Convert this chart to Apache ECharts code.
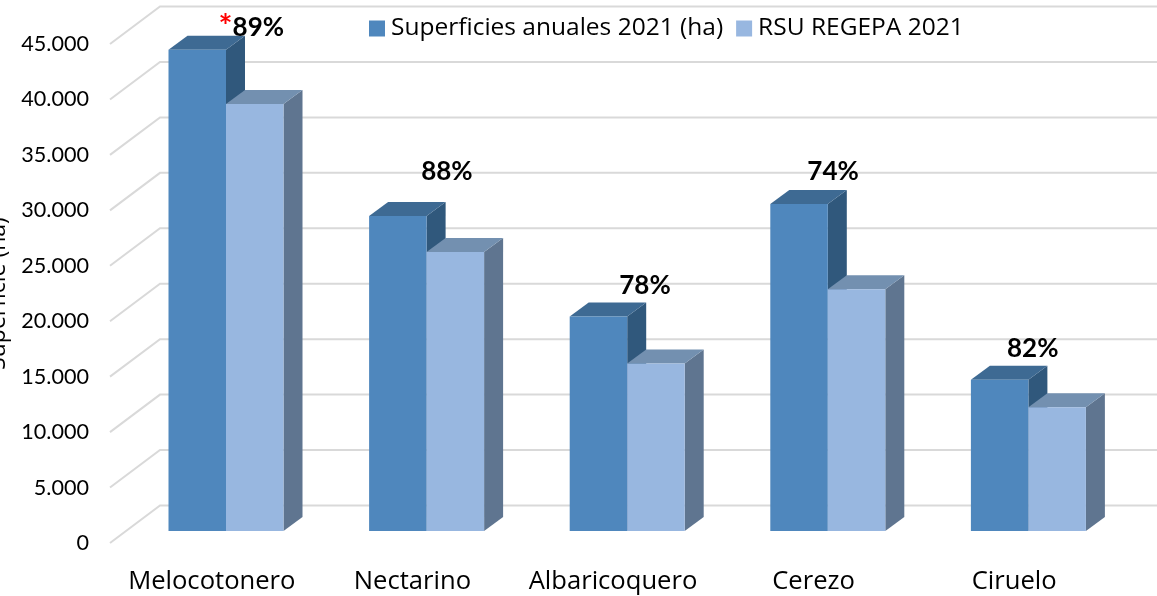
<!DOCTYPE html>
<html><head><meta charset="utf-8">
<style>html,body{margin:0;padding:0;background:#fff;overflow:hidden}#c{width:1157px;height:596px}</style>
<script src="https://cdn.jsdelivr.net/npm/echarts@6/dist/echarts.min.js"></script>
</head><body><div id="c"></div>
<script>
const categories = ['Melocotonero','Nectarino','Albaricoquero','Cerezo','Ciruelo'];
const superficies = [43400, 28400, 19350, 29500, 13650];
const rsu = [38500, 25150, 15100, 21800, 11150];
const percents = ['89%','88%','78%','74%','82%'];
const ticks = [0,5000,10000,15000,20000,25000,30000,35000,40000,45000];
const seriesNames = ['Superficies anuales 2021 (ha)','RSU REGEPA 2021'];
const yTitle = 'Superficie (ha)';

const FONT = '"Open Sans", Lato, sans-serif';
const NUMFONT = 'Lato, "Open Sans", sans-serif';
const labelNudge = [[41,-34],[36,-56.5],[33.5,-43],[21,-44.5],[20,-43]];
const BAR_SHIFT = [15.7, -12], DEPTH = [19, -14], WALL = [50, -37.5], BAR_RATIO = 57.5/200.6;
const palette = [
  {front:'#4f87bd', top:'#3e6a93', side:'#30587c'},
  {front:'#98b7e0', top:'#7390b0', side:'#5f7590'}
];
const poly = (pts, fill) => ({type:'polygon', shape:{points:pts}, style:{fill}});

function barRender(idx){
  return function(params, api){
    const i = api.value(0), v = api.value(1);
    const band = api.size([1,0])[0];
    const w = band*BAR_RATIO;
    const top = api.coord([i,v]), base = api.coord([i,0]);
    const xl = top[0]+BAR_SHIFT[0]+(idx-1)*w, xr = xl+w;
    const yt = top[1]+BAR_SHIFT[1], yb = base[1]+BAR_SHIFT[1];
    const [dx,dy] = DEPTH, c = palette[idx];
    return {type:'group', children:[
      poly([[xr,yt],[xr+dx,yt+dy],[xr+dx,yb+dy],[xr,yb]], c.side),
      poly([[xl,yt],[xl+dx,yt+dy],[xr+dx,yt+dy],[xr,yt]], c.top),
      {type:'rect', shape:{x:xl,y:yt,width:w,height:yb-yt}, style:{fill:c.front}}
    ]};
  };
}
function wallRender(params, api){
  const p = api.coord([0, api.value(0)]);
  const xl = params.coordSys.x, xr = params.coordSys.x+params.coordSys.width;
  const style = {stroke:'#d9d9d9', lineWidth:2, fill:'none'};
  return {type:'polyline', shape:{points:[[xl,p[1]],[xl+WALL[0],p[1]+WALL[1]],[xr+WALL[0],p[1]+WALL[1]]]}, style};
}
function labelRender(params, api){
  const i = api.value(0), p = api.coord([i, superficies[i]]);
  const n = labelNudge[i];
  const star = i===0 ? '{s|*}' : '';
  return {type:'text', x:p[0]+n[0], y:p[1]+n[1], style:{
    text: star+'{b|'+percents[i]+'}', align:'center', verticalAlign:'middle',
    rich:{s:{fill:'#ff0000',fontFamily:NUMFONT,fontWeight:'bold',fontSize:33},
          b:{fill:'#000',fontFamily:NUMFONT,fontWeight:'bold',fontSize:26}}
  }};
}
const chart = echarts.init(document.getElementById('c'), null, {renderer:'canvas'});
chart.setOption({
  animation:false,
  backgroundColor:'#fff',
  legend:{
    left:369, top:16, padding:0, itemWidth:16, itemHeight:16, itemGap:13, icon:'rect',
    textStyle:{fontFamily:FONT,fontSize:24.5,color:'#000',padding:[0,0,0,1]},
    data:seriesNames
  },
  grid:{left:110, top:44, width:1003, height:499, outerBoundsMode:'none'},
  xAxis:{type:'category', data:categories,
    axisLine:{show:false}, axisTick:{show:false}, splitLine:{show:false},
    axisLabel:{fontFamily:FONT,fontSize:25.6,color:'#000',margin:24,padding:[2,0,0,3],hideOverlap:false,interval:0}},
  yAxis:{type:'value', min:0, max:45000, interval:5000,
    name:yTitle, nameLocation:'middle', nameGap:97, nameRotate:90,
    nameTextStyle:{fontFamily:FONT,fontSize:23,color:'#000'},
    axisLine:{show:false}, axisTick:{show:false}, splitLine:{show:false},
    axisLabel:{fontFamily:NUMFONT,fontSize:21.6,color:'#000',margin:21,padding:[6,0,0,0],
      formatter:v=>String(v).replace(/\B(?=(\d{3})+$)/g,'.')}},
  series:[
    {type:'custom', name:'walls', silent:true, z:1, clip:false, renderItem:wallRender,
     data:ticks.map(t=>[t]), encode:{y:0}},
    {type:'custom', name:seriesNames[0], z:2, clip:false, renderItem:barRender(0),
     itemStyle:{color:palette[0].front},
     data:superficies.map((v,i)=>[i,v]), encode:{x:0,y:1}},
    {type:'custom', name:seriesNames[1], z:3, clip:false, renderItem:barRender(1),
     itemStyle:{color:palette[1].front},
     data:rsu.map((v,i)=>[i,v]), encode:{x:0,y:1}},
    {type:'custom', name:'percent', silent:true, z:4, clip:false, renderItem:labelRender,
     data:percents.map((p,i)=>[i]), encode:{x:0}}
  ]
});
</script></body></html>
